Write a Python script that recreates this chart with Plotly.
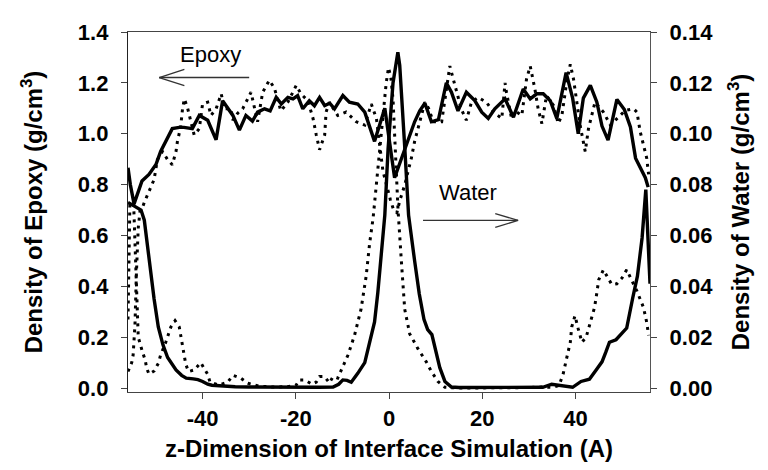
import plotly.graph_objects as go

# ---------------- data ----------------
epoxy_solid_x = [-56, -55.5, -54.7, -54, -53, -51.5, -50, -49, -47.9, -46.5, -45, -44, -42.2, -40.7, -38.9, -37.1,
                 -35.7, -33.5, -32.1, -30.7, -29.3, -28.2, -26.7, -25.5, -24.2, -23.1, -21.7, -20.6, -19.6, -18.5,
                 -17.1, -16, -14.9, -13.8, -12.7, -11.7, -9.9, -8.5, -6.7, -5.2, -3.1, -2, -0.9, 1.2, 2.65, 4.2,
                 5.5, 6.6, 7.7, 9.1, 10.6, 12.3, 13.4, 14.8, 16.6, 18.4, 19.9, 21.3, 22.7, 24.9, 26.7, 28.8, 30.3,
                 31.7, 33.1, 34.6, 36, 38, 39.4, 40.6, 41.7, 43.2, 44.6, 45.7, 47, 48.9, 50.5, 51.8, 52.9, 55, 55.6]
epoxy_solid_y = [0.866, 0.80, 0.724, 0.76, 0.814, 0.84, 0.879, 0.93, 0.969, 1.02, 1.025, 1.025, 1.02, 1.072, 1.053, 0.976,
                 1.13, 1.072, 1.014, 1.072, 1.05, 1.085, 1.098, 1.09, 1.143, 1.117, 1.143, 1.137, 1.15, 1.098,
                 1.13, 1.11, 1.143, 1.111, 1.12, 1.098, 1.15, 1.124, 1.117, 1.085, 0.97, 1.03, 1.10, 0.827, 0.90, 0.98,
                 1.047, 1.09, 1.12, 1.047, 1.055, 1.2, 1.163, 1.09, 1.163, 1.13, 1.085, 1.06, 1.098, 1.137, 1.065, 1.176, 1.137,
                 1.157, 1.157, 1.13, 1.06, 1.24, 1.14, 1.0, 1.14, 1.19, 1.124, 1.03, 0.975, 1.135, 1.095, 1.027, 0.904, 0.827, 0.79]

epoxy_dot_x = [-56, -55.2, -54.9, -54.5, -54.2, -53.8, -53.4, -52.9, -52.5, -51.8, -51.1, -50.4, -49.7, -48.6, -47.5,
               -46.5, -45.7, -45.4, -44.7, -44.3, -43.9, -43.2, -42.5, -41.8, -40.7, -40, -38.9, -38.2, -37.1, -36,
               -35.3, -33.9, -33.5, -32.5, -31.4, -30.3, -29.6, -28.2, -27.1, -25.7, -24.6, -23.2, -21.7, -19.9, -18.9,
               -17.4, -16.3, -15.6, -14.9, -13.8, -13.5, -12.8, -11, -9.2, -7, -5.2, -3.8, -2.7, -2.4, -2, -1.65,
               -1.3, -0.5, 0.3, 1.0, 1.7, 2.3, 3.4, 4.1, 4.8, 5.5, 6.2, 7, 7.7, 8.5, 9.5, 11.3, 12, 13.05, 13.8,
               14.5, 15.5, 16.6, 17.7, 19.1, 20.9, 22.4, 24.2, 24.9, 25.2, 26.3, 27, 28.5, 29.5, 30.3, 31.3, 32,
               32.8, 33.8, 35.3, 36.3, 37.1, 38.1, 38.9, 39.6, 40.3, 41, 42.1, 42.8, 44.2, 46, 47.5, 48.9, 50.7,
               52.5, 53.2, 53.9, 54.6, 55.3, 55.7]
epoxy_dot_y = [0.065, 0.10, 0.13, 0.25, 0.45, 0.63, 0.70, 0.71, 0.73, 0.76, 0.795, 0.82, 0.898, 0.93, 0.898,
               0.878, 0.93, 0.969, 1.027, 1.098, 1.137, 1.10, 1.047, 0.995, 1.02, 1.117, 1.124, 1.072, 1.098, 1.157,
               1.098, 1.098, 1.053, 1.08, 1.098, 1.137, 1.163, 1.047, 1.163, 1.21, 1.18, 1.09, 1.124, 1.19, 1.157,
               1.13, 1.06, 0.995, 0.937, 0.995, 1.085, 1.124, 1.072, 1.085, 1.047, 1.034, 1.117, 1.06, 1.008, 0.943, 0.904,
               0.853, 0.79, 0.74, 0.70, 0.69, 0.736, 0.80, 0.853, 0.904, 0.97, 1.02, 1.085, 1.124, 1.10, 1.047, 1.047, 1.137, 1.266, 1.214,
               1.163, 1.098, 1.053, 1.124, 1.143, 1.124, 1.085, 1.06, 1.2, 1.163, 1.06, 1.09, 1.072, 1.214, 1.266, 1.176, 1.098,
               1.04, 1.15, 1.111, 1.04, 1.072, 1.2, 1.273, 1.214, 1.124, 1.034, 0.93, 1.02, 1.124, 1.085, 1.034, 1.06, 1.092,
               1.098, 1.085, 1.008, 0.956, 0.904, 0.84]

water_solid_x = [-56, -55, -54, -53.2, -52.5, -51.5, -50.4, -49.5, -48.5, -47.5, -46.5, -45.7, -44.5, -43.5, -42, -41,
                 -40, -38.9, -38, -36, -33, -30, -25, -20, -15, -12, -10.8, -9.9, -9, -8.1, -7.4, -6.7, -5.2, -4.15,
                 -3.1, -2.4, -1.65, -0.9, -0.2, 0.86, 1.9, 2.3, 3.4, 4.2, 5.5, 6.5, 7.5, 8.3, 9.2, 10.1, 10.9, 12,
                 13.4, 15, 20, 25, 30, 33, 34.9, 37, 39.4, 41.2, 43, 44.6, 45.7, 46.5, 47.3, 48.7, 51, 52.3, 53.3,
                 54.3, 55.1, 56]
water_solid_y = [0.073, 0.072, 0.071, 0.070, 0.066, 0.050, 0.035, 0.024, 0.017, 0.012, 0.009, 0.0071, 0.005, 0.0039, 0.0036, 0.0033,
                 0.0026, 0.0015, 0.0011, 0.0008, 0.0005, 0.0004, 0.0003, 0.0003, 0.0003, 0.0004, 0.0015, 0.0032, 0.003, 0.0023, 0.004, 0.0058, 0.010, 0.018,
                 0.026, 0.0375, 0.052, 0.068, 0.094, 0.120, 0.132, 0.127, 0.094, 0.068, 0.050, 0.037, 0.027, 0.023, 0.021, 0.014, 0.008, 0.0026,
                 0.0004, 0.0002, 0.0002, 0.0002, 0.0003, 0.0003, 0.0015, 0.001, 0.0003, 0.0026, 0.0035, 0.0075, 0.0103, 0.014, 0.018, 0.019, 0.0236, 0.0355, 0.044,
                 0.059, 0.078, 0.041]

water_dot_x = [-56, -55.6, -54.8, -54.2, -53.8, -52.9, -52.3, -52, -51.5, -50.4, -49.5, -49, -47.9, -46.8, -45.9, -45,
               -44.4, -44.1, -43.6, -43, -41.8, -40.4, -39.6, -38.9, -38.4, -36.5, -34.6, -33.5, -31.8, -30.3, -28,
               -25, -22, -20, -19.2, -18.1, -16.5, -15.6, -14.9, -13.8, -12.8, -12, -11, -10.2, -9.5, -8.8, -7.4,
               -6, -4.9, -4.15, -3.4, -2.7, -2, -1.3, -0.6, -0.1, 0.4, 0.86, 1.2, 1.6, 1.94, 2.65, 3.37, 4.45, 6.2,
               8, 9.1, 10.5, 12, 15, 20, 25, 30, 32.7, 35, 36.5, 37.4, 38.1, 38.9, 39.2, 39.9, 40.6, 41.4, 42.3,
               43.2, 44.1, 44.6, 45, 46, 46.7, 47.8, 48.9, 50, 51, 51.7, 52.5, 53.2, 53.9, 54.6, 55.3, 55.7]
water_dot_y = [0.027, 0.072, 0.073, 0.045, 0.020, 0.0142, 0.011, 0.0078, 0.0055, 0.0067, 0.0097, 0.013, 0.018, 0.024, 0.0265, 0.024,
               0.018, 0.0142, 0.0093, 0.0065, 0.0071, 0.010, 0.0078, 0.0054, 0.0023, 0.0012, 0.0023, 0.005, 0.0039, 0.0019, 0.0008,
               0.0004, 0.0005, 0.001, 0.0032, 0.0032, 0.0015, 0.0023, 0.0045, 0.0045, 0.002, 0.0045, 0.0039, 0.007, 0.010, 0.013, 0.0207,
               0.031, 0.044, 0.057, 0.067, 0.080, 0.093, 0.107, 0.120, 0.126, 0.122, 0.1137, 0.100, 0.085, 0.070, 0.050, 0.031, 0.0213, 0.0155,
               0.0103, 0.0065, 0.0026, 0.0003, 0.0, 0.0, 0.0, 0.0002, 0.0004, 0.0003, 0.001, 0.0058, 0.0116, 0.018, 0.024, 0.0284, 0.0233, 0.018, 0.020,
               0.0258, 0.0317, 0.0375, 0.0426, 0.0465, 0.044, 0.0407, 0.041, 0.0433, 0.0465, 0.044, 0.0407, 0.0381, 0.0349, 0.0317, 0.0258, 0.0207]

x_ticks = [-40, -20, 0, 20, 40]
y_left_ticks = [0.0, 0.2, 0.4, 0.6, 0.8, 1.0, 1.2, 1.4]
y_right_ticks = [0.00, 0.02, 0.04, 0.06, 0.08, 0.10, 0.12, 0.14]

# ---------------- figure ----------------
FONT = "Liberation Sans, Arial, sans-serif"
fig = go.Figure()
fig.add_trace(go.Scatter(x=epoxy_solid_x, y=epoxy_solid_y, mode="lines",
                         line=dict(color="black", width=3.4), yaxis="y", showlegend=False))
fig.add_trace(go.Scatter(x=epoxy_dot_x, y=epoxy_dot_y, mode="lines",
                         line=dict(color="black", width=3, dash="3px,5px"), yaxis="y", showlegend=False))
fig.add_trace(go.Scatter(x=water_solid_x, y=water_solid_y, mode="lines",
                         line=dict(color="black", width=3.4), yaxis="y2", showlegend=False))
fig.add_trace(go.Scatter(x=water_dot_x, y=water_dot_y, mode="lines",
                         line=dict(color="black", width=3, dash="3px,5px"), yaxis="y2", showlegend=False))

# arrows (open heads) and labels
arrow_col = "#333333"
def seg(x0, y0, x1, y1):
    fig.add_shape(type="line", xref="x", yref="y", x0=x0, y0=y0, x1=x1, y1=y1,
                  line=dict(color=arrow_col, width=1.3))

seg(-49.3, 1.221, -30.0, 1.221)
seg(-49.3, 1.221, -43.9, 1.253)
seg(-49.3, 1.221, -43.9, 1.189)
seg(7.3, 0.659, 27.7, 0.659)
seg(27.7, 0.659, 22.8, 0.686)
seg(27.7, 0.659, 22.8, 0.632)

fig.add_annotation(x=-38.3, y=1.31, xref="x", yref="y", text="Epoxy", showarrow=False,
                   font=dict(family=FONT, size=22, color="black"))
fig.add_annotation(x=17.0, y=0.767, xref="x", yref="y", text="Water", showarrow=False,
                   font=dict(family=FONT, size=22, color="black"))

tickfont = dict(family=FONT, size=22, color="black", weight="bold")
titlefont = dict(family=FONT, size=24, color="black", weight="bold")

fig.update_layout(
    width=768, height=470,
    margin=dict(l=120, r=126, t=19, b=86),
    paper_bgcolor="white", plot_bgcolor="white",
    xaxis=dict(range=[-56, 56], tickvals=x_ticks, ticktext=[str(v) for v in x_ticks],
               showgrid=False, zeroline=False, showline=True, linecolor="#444", linewidth=1.3,
               mirror=True, ticks="outside", ticklen=6, tickcolor="#444",
               tickfont=tickfont,
               title=dict(text="z-Dimension of Interface Simulation (A)", font=titlefont, standoff=10)),
    yaxis=dict(range=[-0.0155, 1.4], tickvals=y_left_ticks, ticktext=[f"{v:.1f}" for v in y_left_ticks],
               showgrid=False, zeroline=False, showline=True, linecolor="#222", linewidth=1.3,
               ticks="outside", ticklen=6, tickcolor="#444", tickfont=tickfont, ticklabelstandoff=8,
               title=dict(text="Density of Epoxy (g/cm<sup>3</sup>)", font=titlefont, standoff=28)),
    yaxis2=dict(range=[-0.00155, 0.14], tickvals=y_right_ticks, ticktext=[f"{v:.2f}" for v in y_right_ticks],
                overlaying="y", side="right", anchor="x",
                showgrid=False, zeroline=False, showline=True, linecolor="#555", linewidth=1.3,
                ticks="outside", ticklen=6, tickcolor="#444", tickfont=tickfont, ticklabelstandoff=8,
                title=dict(text="Density of Water (g/cm<sup>3</sup>)", font=titlefont, standoff=20)),
)

fig.write_html("out.html")
